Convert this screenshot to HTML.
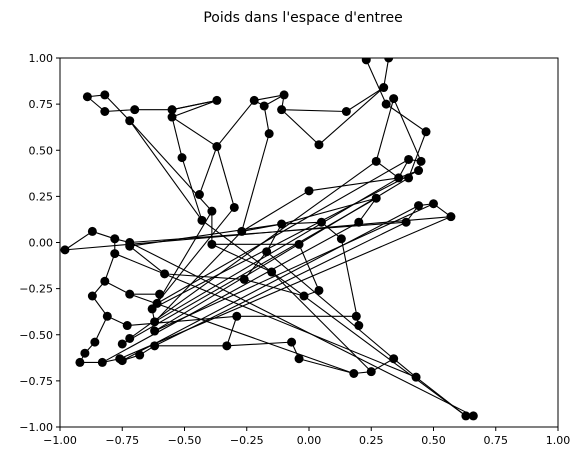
<!DOCTYPE html>
<html><head><meta charset="utf-8">
<style>
body{margin:0;background:#fff;width:583px;height:461px;overflow:hidden;font-family:"Liberation Sans","DejaVu Sans",sans-serif;}
svg text{font-family:"DejaVu Sans","Liberation Sans",sans-serif;}
</style></head>
<body>
<svg id="chart" width="583" height="461" xmlns="http://www.w3.org/2000/svg">
<text x="303" y="22" font-size="14" text-anchor="middle">Poids dans l'espace d'entree</text>
<defs><clipPath id="clip"><rect x="60" y="58" width="498" height="369"/></clipPath></defs>
<g id="edges" clip-path="url(#clip)"></g>
<g id="nodes" clip-path="url(#clip)"></g>
<rect x="60" y="58" width="498" height="369" fill="none" stroke="#000" stroke-width="1"/>
<g id="axes"></g>
</svg>
<script>
const nodeX = [-0.89,-0.82,-0.82,-0.72,-0.70,-0.55,-0.55,-0.37,-0.22,-0.18,-0.10,-0.11,-0.51,-0.37,-0.16,0.04,0.15,0.23,0.32,0.30,0.31,0.34,0.47,0.27,0.40,0.45,0.44,0.36,0.40,-0.44,-0.39,-0.30,-0.43,-0.27,0.00,0.27,-0.11,0.05,0.20,0.39,0.44,0.50,0.57,0.13,-0.98,-0.87,-0.78,-0.72,-0.72,-0.39,-0.78,-0.58,-0.04,-0.17,-0.15,-0.82,-0.87,-0.72,-0.60,-0.26,-0.02,0.04,-0.81,-0.73,-0.61,-0.63,-0.29,0.19,0.20,-0.86,-0.90,-0.92,-0.83,-0.76,-0.75,-0.72,-0.75,-0.68,-0.62,-0.62,-0.62,-0.33,-0.07,-0.04,0.18,0.25,0.34,0.43,0.63,0.66];
const nodeY = [0.79,0.80,0.71,0.66,0.72,0.72,0.68,0.77,0.77,0.74,0.80,0.72,0.46,0.52,0.59,0.53,0.71,0.99,1.00,0.84,0.75,0.78,0.60,0.44,0.45,0.44,0.39,0.35,0.35,0.26,0.17,0.19,0.12,0.06,0.28,0.24,0.10,0.11,0.11,0.11,0.20,0.21,0.14,0.02,-0.04,0.06,0.02,0.00,-0.02,-0.01,-0.06,-0.17,-0.01,-0.05,-0.16,-0.21,-0.29,-0.28,-0.28,-0.20,-0.29,-0.26,-0.40,-0.45,-0.33,-0.36,-0.40,-0.40,-0.45,-0.54,-0.60,-0.65,-0.65,-0.63,-0.64,-0.52,-0.55,-0.61,-0.43,-0.48,-0.56,-0.56,-0.54,-0.63,-0.71,-0.70,-0.63,-0.73,-0.94,-0.94];
const edgeFrom = [0,0,1,2,4,5,6,6,13,8,8,9,7,9,10,11,11,16,19,17,20,21,21,22,23,24,25,26,27,24,3,3,12,12,13,13,14,33,36,37,34,34,35,38,39,40,41,44,44,45,46,47,48,49,49,50,50,55,56,62,69,70,71,72,73,74,77,80,81,82,83,84,85,86,87,88,51,51,59,60,61,57,57,58,64,65,63,63,66,66,67,68,64,65,78,79,75,76,73,72,80,74,79,47,32,50,53,54,57,49,53,36,30,31,33,89,15];
const edgeTo   = [1,2,3,4,5,7,7,13,8,10,9,14,5,10,11,16,15,19,18,20,22,23,25,28,27,25,26,27,28,27,30,32,6,32,29,31,33,36,37,43,33,27,36,35,40,41,42,42,45,46,47,39,36,52,30,46,55,56,62,69,70,71,72,73,74,77,80,81,82,83,84,85,86,87,88,89,48,59,60,61,52,58,55,64,65,78,62,66,81,67,68,43,24,26,27,28,23,35,42,38,39,40,41,89,88,87,86,85,84,54,59,53,64,65,78,89,19];
const xTicks = [-1.00,-0.75,-0.50,-0.25,0.00,0.25,0.50,0.75,1.00];
const yTicks = [1.00,0.75,0.50,0.25,0.00,-0.25,-0.50,-0.75,-1.00];

const X0=60,X1=558,Y0=427,Y1=58;
function sx(v){return X0+(v+1)/2*(X1-X0);}
function sy(v){return Y0-(v+1)/2*(Y0-Y1);}
const NS='http://www.w3.org/2000/svg';
const eg=document.getElementById('edges'), ng=document.getElementById('nodes'), ag=document.getElementById('axes');
for(let i=0;i<edgeFrom.length;i++){
  const a=edgeFrom[i],b=edgeTo[i];
  const l=document.createElementNS(NS,'line');
  l.setAttribute('x1',sx(nodeX[a]));l.setAttribute('y1',sy(nodeY[a]));
  l.setAttribute('x2',sx(nodeX[b]));l.setAttribute('y2',sy(nodeY[b]));
  l.setAttribute('stroke','#000');l.setAttribute('stroke-width','1.1');
  
  
  eg.appendChild(l);
}
for(let i=0;i<nodeX.length;i++){
  const c=document.createElementNS(NS,'circle');
  c.setAttribute('cx',sx(nodeX[i]));c.setAttribute('cy',sy(nodeY[i]));c.setAttribute('r','4.5');
  c.setAttribute('fill','#000');
  
  
  ng.appendChild(c);
}
xTicks.forEach(t=>{
  const x=sx(t);
  const l=document.createElementNS(NS,'line');
  l.setAttribute('x1',x);l.setAttribute('x2',x);l.setAttribute('y1',Y0);l.setAttribute('y2',Y0+4);l.setAttribute('stroke','#000');
  
  
  ag.appendChild(l);
  const tx=document.createElementNS(NS,'text');
  tx.setAttribute('x',x);tx.setAttribute('y',Y0+17);tx.setAttribute('font-size','11');tx.setAttribute('text-anchor','middle');
  tx.textContent=(t<0?'\u2212':'')+Math.abs(t).toFixed(2);
  
  
  ag.appendChild(tx);
});
yTicks.forEach(t=>{
  const y=sy(t);
  const l=document.createElementNS(NS,'line');
  l.setAttribute('x1',X0-4);l.setAttribute('x2',X0);l.setAttribute('y1',y);l.setAttribute('y2',y);l.setAttribute('stroke','#000');
  
  
  ag.appendChild(l);
  const tx=document.createElementNS(NS,'text');
  tx.setAttribute('x',X0-7);tx.setAttribute('y',y+4);tx.setAttribute('font-size','11');tx.setAttribute('text-anchor','end');
  tx.textContent=(t<0?'\u2212':'')+Math.abs(t).toFixed(2);
  
  
  ag.appendChild(tx);
});
</script>
</body></html>
